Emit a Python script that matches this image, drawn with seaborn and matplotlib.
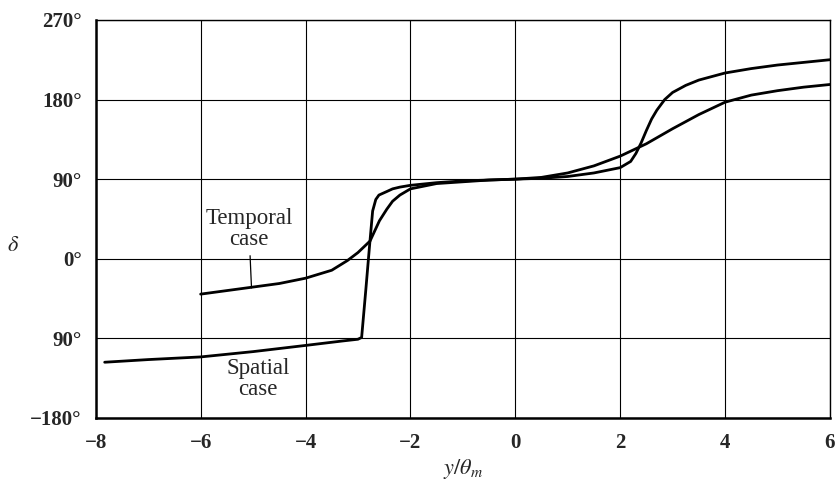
import matplotlib
matplotlib.use("Agg")
import matplotlib.pyplot as plt
import seaborn as sns
import pandas as pd

# Phase angle delta (degrees) against y/theta_m for the two cases
spatial_x = [-7.83, -7.0, -6.0, -5.0, -4.0, -3.3, -3.0, -2.93, -2.85, -2.78, -2.72,
             -2.66, -2.6, -2.45, -2.34, -2.2, -2.0, -1.5, -1.0, -0.5, 0.0, 0.5,
             1.0, 1.5, 2.0, 2.2, 2.3, 2.4, 2.5, 2.6, 2.7, 2.85, 3.0, 3.25, 3.5,
             4.0, 4.5, 5.0, 5.5, 6.0]
spatial_y = [-117, -114, -111, -105, -98, -93, -91, -89, -35, 14, 54,
             67, 72, 76, 79, 81, 83, 86, 88, 89, 90, 91,
             93, 97, 103, 110, 119, 131, 145, 158, 168, 180, 188, 196, 202,
             210, 215, 219, 222, 225]

temporal_x = [-6.0, -5.5, -5.0, -4.5, -4.0, -3.5, -3.2, -3.0, -2.77, -2.59, -2.45,
              -2.34, -2.2, -2.0, -1.5, -1.0, -0.5, 0.0, 0.5, 1.0, 1.5, 2.0,
              2.5, 3.0, 3.5, 4.0, 4.5, 5.0, 5.5, 6.0]
temporal_y = [-40, -36, -32, -28, -22, -13, -2, 7, 20, 43, 56,
              65, 72, 79, 85, 87, 89, 90, 92, 97, 105, 116,
              130, 147, 163, 177, 185, 190, 194, 197]

x_ticks = [-8, -6, -4, -2, 0, 2, 4, 6]
x_tick_labels = ["\u22128", "\u22126", "\u22124", "\u22122", "0", "2", "4", "6"]
y_ticks = [-180, -90, 0, 90, 180, 270]
y_tick_labels = ["\u2212180\u00b0", "90\u00b0", "0\u00b0", "90\u00b0", "180\u00b0", "270\u00b0"]

sns.set_style("white")
plt.rcParams["font.family"] = ["Liberation Serif", "DejaVu Serif"]
plt.rcParams["mathtext.fontset"] = "stix"

df = pd.concat([
    pd.DataFrame({"x": spatial_x, "delta": spatial_y, "case": "Spatial"}),
    pd.DataFrame({"x": temporal_x, "delta": temporal_y, "case": "Temporal"}),
])

fig = plt.figure(figsize=(8.4, 4.86), dpi=100)
ax = fig.add_axes([0.114, 0.140, 0.874, 0.819])

sns.lineplot(data=df, x="x", y="delta", units="case", estimator=None, sort=False,
             color="black", linewidth=2.0, legend=False, ax=ax)

ax.set_xlim(-8, 6)
ax.set_ylim(-180, 270)
ax.set_xticks(x_ticks)
ax.set_xticklabels(x_tick_labels, fontsize=15, fontweight="bold")
ax.set_yticks(y_ticks)
ax.set_yticklabels(y_tick_labels, fontsize=15, fontweight="bold")
ax.tick_params(axis="x", length=0, pad=11)
ax.tick_params(axis="y", length=0, pad=10)

ax.grid(True, color="black", linewidth=0.8)
for side in ["left", "bottom"]:
    ax.spines[side].set_linewidth(1.8)
for side in ["top", "right"]:
    ax.spines[side].set_linewidth(1.0)
for sp in ax.spines.values():
    sp.set_color("black")

ax.set_xlabel(r"$y/\theta_m$", fontsize=16, labelpad=3)
ax.set_ylabel(r"$\delta$", fontsize=16, rotation=0, va="center", ha="center")
ax.yaxis.set_label_coords(-0.113, 0.43)

ax.annotate("Temporal\ncase", xy=(-5.03, -33), xytext=(-5.08, 34),
            ha="center", va="center", fontsize=16.5, linespacing=1.0,
            arrowprops=dict(arrowstyle="-", color="black", lw=0.9, shrinkA=2, shrinkB=0))
ax.text(-4.91, -136, "Spatial\ncase", ha="center", va="center", fontsize=16.5, linespacing=1.0)

fig.savefig("out.png", dpi=100)
